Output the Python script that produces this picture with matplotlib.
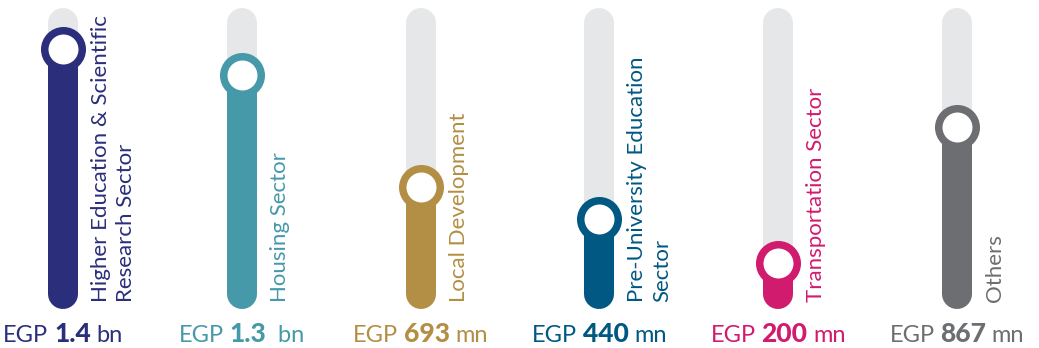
import matplotlib.pyplot as plt
from matplotlib.offsetbox import TextArea, HPacker, AnnotationBbox

sectors = ["Higher Education & Scientific\nResearch Sector", "Housing Sector",
           "Local Development", "Pre-University Education\nSector",
           "Transportation Sector", "Others"]
amounts = ["1.4", "1.3", "693", "440", "200", "867"]
units = ["bn", " bn", "mn", "mn", "mn", "mn"]
# slider position on the track (0 = bottom, 100 = top)
levels = [90.4, 80.7, 39.3, 27.8, 11.5, 61.5]
colors = ["#2b2f7b", "#4699a9", "#b38f45", "#005883", "#d11b6e", "#6d6e71"]
track_color = "#e6e7e8"

plt.rcParams['font.family'] = ['Lato', 'DejaVu Sans']

fig = plt.figure(figsize=(10.39, 3.48), dpi=100)
ax = fig.add_axes([0, 0, 1, 1])
ax.set_xlim(-0.352, 5.459)
ax.set_ylim(-19.93, 108.49)
ax.axis('off')

bar_w = 21.6  # points, ~30 px

for i, (name, amt, unit, lvl, c) in enumerate(zip(sectors, amounts, units, levels, colors)):
    # grey track
    ax.plot([i, i], [0, 100], color=track_color, lw=bar_w, solid_capstyle='round', zorder=1)
    # filled part
    ax.plot([i, i], [0, lvl], color=c, lw=bar_w, solid_capstyle='round', zorder=2)
    # slider knob
    ax.plot(i, lvl, 'o', ms=27, mfc='white', mec=c, mew=5.4, zorder=3)

    ax.text(i + 0.157, -3, name, rotation=90, rotation_mode='anchor',
            ha='left', va='top', color=c, fontsize=16, fontweight='normal',
            linespacing=1.3)

    parts = [TextArea("EGP", textprops=dict(color=c, fontsize=17, fontweight='normal')),
             TextArea(amt, textprops=dict(color=c, fontsize=19, fontweight='black')),
             TextArea(unit, textprops=dict(color=c, fontsize=17, fontweight='normal'))]
    box = HPacker(children=parts, sep=4, align='baseline', pad=0)
    ab = AnnotationBbox(box, (i, -17.3), frameon=False, box_alignment=(0.5, 0.2),
                        pad=0)
    ax.add_artist(ab)

fig.savefig('out.png', dpi=100)
